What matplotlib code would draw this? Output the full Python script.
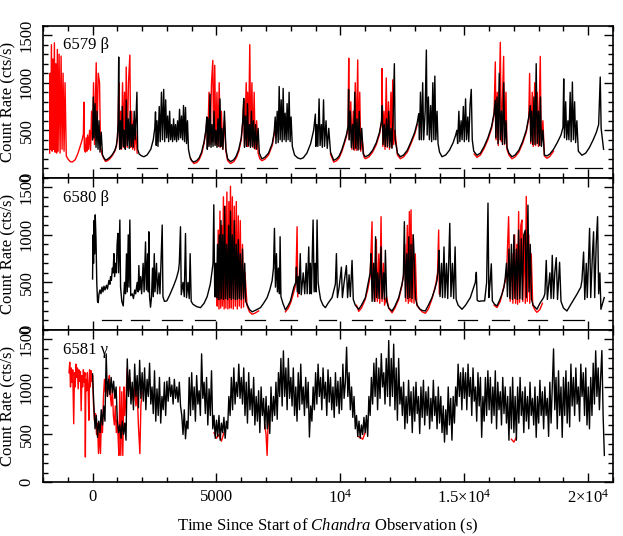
import numpy as np
import matplotlib
matplotlib.use("Agg")
import matplotlib.pyplot as plt
from matplotlib.ticker import MultipleLocator, FixedLocator, FixedFormatter

plt.rcParams['font.family'] = 'Liberation Serif'
plt.rcParams['mathtext.fontset'] = 'custom'
plt.rcParams['mathtext.rm'] = 'Liberation Serif'
plt.rcParams['mathtext.it'] = 'Liberation Serif:italic'

# ---- 6579 beta : black (Chandra) and red (RXTE) light curves, (time s, rate cts/s)
beta79_black = [
    (0, 400), (30, 850), (60, 420), (100, 780), (140, 320), (180, 700), (220, 300), (260, 600), (300, 270),
    (350, 480), (400, 240), (460, 210), (524, 185),
    (600, 195), (700, 215), (800, 245), (900, 290), (960, 340), (1000, 420), (1030, 560), (1055, 1270),
    (1075, 500), (1100, 300),
    (1130, 600), (1160, 310), (1200, 750), (1240, 330), (1280, 500), (1320, 300), (1360, 820), (1400, 340),
    (1440, 620), (1480, 310), (1520, 700), (1560, 330), (1600, 560), (1640, 320), (1680, 700), (1720, 400),
    (1790, 900), (1820, 300), (1880, 250), (1970, 232), (2070, 221),
    (2200, 240), (2350, 300), (2450, 400), (2510, 520), (2540, 693), (2570, 340),
    (2600, 600), (2640, 330), (2690, 750), (2730, 380), (2780, 900), (2820, 400), (2870, 930), (2910, 380),
    (2950, 820), (2990, 420), (3030, 650), (3070, 380), (3110, 700), (3150, 400), (3190, 560), (3230, 380),
    (3270, 620), (3310, 400), (3350, 560), (3390, 380), (3430, 600), (3470, 400), (3510, 720), (3550, 420),
    (3590, 650), (3630, 400), (3670, 760), (3710, 380), (3750, 740), (3790, 360), (3830, 600), (3870, 300),
    (3930, 220), (4000, 180), (4086, 166),
    (4200, 180), (4300, 210), (4400, 270), (4500, 380), (4570, 500), (4610, 640), (4630, 300),
    (4660, 620), (4700, 330), (4740, 880), (4780, 320), (4820, 560), (4860, 330), (4900, 700), (4940, 340),
    (4980, 500), (5020, 320), (5060, 620), (5100, 330), (5140, 830), (5180, 330), (5220, 520), (5260, 300),
    (5320, 700), (5380, 300), (5450, 200), (5565, 170),
    (5700, 190), (5800, 230), (5900, 300), (6000, 420), (6060, 600), (6100, 835), (6130, 320),
    (6170, 650), (6210, 330), (6250, 780), (6290, 340), (6330, 560), (6370, 320), (6410, 700), (6450, 330),
    (6490, 600), (6530, 310), (6580, 560), (6620, 300), (6680, 520), (6730, 260), (6830, 199),
    (6950, 215), (7100, 260), (7250, 360), (7330, 480), (7370, 640), (7400, 360),
    (7450, 700), (7490, 370), (7530, 960), (7570, 400), (7610, 820), (7650, 380), (7690, 940), (7730, 400),
    (7770, 680), (7810, 380), (7850, 780), (7890, 400), (7930, 900), (7970, 380), (8010, 640), (8060, 330),
    (8150, 240), (8270, 210), (8390, 199),
    (8500, 210), (8650, 260), (8800, 360), (8920, 500), (8990, 670), (9010, 330),
    (9050, 560), (9090, 330), (9140, 830), (9180, 340), (9230, 560), (9270, 320), (9320, 820), (9360, 330),
    (9420, 600), (9470, 310), (9530, 520), (9600, 270), (9730, 184),
    (9850, 200), (9950, 230), (10050, 290), (10150, 370), (10250, 460), (10310, 545), (10330, 930), (10350, 400),
    (10400, 700), (10440, 320), (10490, 560), (10530, 300), (10580, 900), (10620, 310), (10670, 620),
    (10710, 290), (10760, 700), (10800, 300), (10860, 520), (10920, 250), (11008, 221),
    (11150, 240), (11300, 290), (11450, 370), (11580, 480), (11660, 600), (11690, 760), (11720, 350),
    (11770, 560), (11810, 330), (11860, 620), (11900, 330), (11950, 700), (11990, 320), (12040, 520),
    (12080, 310), (12130, 680), (12177, 1200), (12210, 400), (12300, 260), (12419, 221),
    (12550, 240), (12700, 290), (12850, 380), (13000, 480), (13100, 580), (13160, 675), (13190, 400),
    (13230, 900), (13270, 400), (13320, 1000), (13360, 400), (13420, 700), (13468, 1344), (13500, 450),
    (13550, 850), (13590, 400), (13640, 760), (13680, 380), (13730, 1000), (13770, 400), (13810, 1070),
    (13850, 400), (13900, 700), (13940, 360), (14000, 270), (14100, 221),
    (14250, 240), (14400, 290), (14550, 370), (14650, 450), (14700, 500), (14730, 360),
    (14780, 700), (14820, 380), (14870, 600), (14910, 400), (14960, 750), (15000, 380), (15050, 830),
    (15090, 400), (15140, 640), (15180, 380), (15230, 760), (15280, 930), (15320, 400), (15380, 280), (15510, 237),
    (15650, 260), (15800, 330), (15950, 420), (16100, 540), (16200, 680), (16250, 816), (16270, 420),
    (16320, 850), (16360, 360), (16410, 1100), (16450, 400), (16500, 700), (16540, 350), (16590, 1000),
    (16630, 360), (16680, 600), (16720, 320), (16800, 260), (16923, 221),
    (17050, 240), (17200, 290), (17350, 380), (17500, 500), (17600, 640), (17660, 760), (17680, 380),
    (17720, 700), (17760, 350), (17810, 850), (17850, 350), (17900, 1200), (17940, 360), (17990, 700),
    (18030, 340), (18070, 850), (18110, 330), (18170, 500), (18230, 240), (18333, 230),
    (18450, 250), (18600, 300), (18750, 370), (18900, 450), (18980, 530), (19010, 1040), (19040, 420),
    (19090, 800), (19130, 400), (19180, 600), (19220, 400), (19270, 900), (19310, 380), (19360, 1007),
    (19400, 400), (19450, 800), (19490, 370), (19540, 600), (19600, 280), (19745, 237),
    (19900, 260), (20050, 320), (20200, 400), (20330, 480), (20420, 560), (20484, 1060), (20520, 520), (20618, 300),
]

beta79_red_a = [
    (-1730, 260), (-1710, 1100), (-1690, 300), (-1660, 1400), (-1630, 280), (-1600, 1250), (-1570, 300),
    (-1540, 1420), (-1510, 270), (-1480, 1200), (-1450, 260), (-1420, 1350), (-1390, 280), (-1350, 1300),
    (-1310, 260), (-1270, 1280), (-1230, 300), (-1190, 1100), (-1150, 280), (-1110, 1000), (-1060, 230),
    (-1000, 200), (-900, 170), (-820, 166), (-700, 190), (-600, 250), (-500, 330), (-420, 400), (-370, 460),
    (-350, 795), (-330, 300), (-290, 270), (-260, 420), (-230, 280), (-200, 450), (-160, 300), (-120, 500),
    (-80, 290), (-40, 700), (0, 400), (40, 1000), (80, 350), (148, 1210), (180, 400), (230, 1100), (282, 1000),
    (320, 320), (380, 250), (440, 210), (524, 172), (600, 180), (700, 200), (800, 235), (900, 280), (960, 330),
    (1000, 410), (1030, 560), (1062, 1000), (1090, 320), (1130, 700), (1170, 300), (1210, 1000), (1250, 320),
    (1290, 900), (1330, 330), (1358, 1166), (1400, 320), (1450, 1000), (1505, 1290), (1540, 320), (1580, 700),
    (1620, 300), (1660, 600), (1700, 290), (1740, 500), (1800, 260),
]
beta79_red_b = [
    (3950, 200), (4086, 150), (4200, 160), (4300, 190), (4400, 250), (4500, 360), (4570, 480), (4610, 600),
    (4640, 320), (4700, 900), (4740, 350), (4800, 1000), (4852, 1235), (4880, 380), (4930, 1183), (4970, 350),
    (5020, 900), (5060, 330), (5110, 1000), (5150, 320), (5200, 700), (5250, 300), (5320, 600), (5380, 280),
    (5450, 180), (5565, 150), (5700, 170), (5800, 210), (5900, 280), (6000, 400), (6060, 580), (6100, 800),
    (6130, 330), (6200, 1000), (6240, 330), (6250, 900), (6290, 330), (6344, 1400), (6380, 340), (6430, 1000),
    (6470, 320), (6520, 900), (6560, 300), (6620, 600), (6680, 260), (6750, 200), (6830, 180), (6950, 195),
    (7100, 240), (7250, 340), (7330, 460), (7380, 600),
]
beta79_red_c = [
    (9600, 250), (9730, 165), (9850, 180), (9950, 210), (10050, 270), (10150, 350), (10250, 440), (10310, 520),
    (10336, 1258), (10360, 400), (10420, 800), (10460, 300), (10520, 700), (10560, 290), (10600, 1000),
    (10640, 290), (10699, 1240), (10730, 300), (10780, 900), (10820, 280), (10880, 400), (10950, 220),
    (11008, 200), (11150, 220), (11300, 270), (11450, 350), (11580, 460), (11660, 580), (11680, 1149),
    (11710, 330), (11760, 700), (11800, 300), (11850, 1050), (11890, 320), (11940, 800), (11980, 300),
    (12040, 900), (12080, 320), (12110, 1030), (12150, 350), (12200, 500), (12300, 240), (12419, 200),
    (12550, 220), (12700, 270), (12850, 360), (13000, 460), (13100, 560),
]
beta79_red_d = [
    (15400, 250), (15510, 215), (15650, 240), (15800, 310), (15950, 400), (16100, 520), (16200, 660),
    (16250, 1219), (16280, 400), (16330, 900), (16370, 340), (16452, 1425), (16490, 380), (16586, 1277),
    (16620, 350), (16680, 900), (16720, 300), (16800, 240), (16923, 200), (17050, 220), (17200, 270),
    (17350, 360), (17500, 480), (17600, 620), (17634, 1097), (17680, 360), (17740, 900), (17780, 330),
    (17840, 1000), (17880, 340), (17940, 900), (17990, 330), (18065, 1277), (18100, 340), (18170, 600),
    (18230, 230), (18333, 205), (18450, 225), (18600, 280),
]

# ---- 6580 beta
beta80_black = [
    (0, 536), (20, 1000), (40, 700), (60, 1150), (80, 800), (108, 1210), (140, 950), (170, 500), (200, 300),
    (228, 287), (260, 380), (300, 420), (340, 380), (380, 450), (420, 400), (460, 460), (500, 420), (560, 470),
    (600, 430), (660, 520), (700, 480), (726, 560), (760, 520), (800, 650), (830, 600), (860, 802), (890, 560),
    (930, 700), (960, 600), (990, 900), (1022, 1015), (1050, 600), (1080, 900), (1102, 1156), (1130, 450),
    (1180, 300), (1237, 252), (1290, 500), (1330, 380), (1370, 800), (1400, 400), (1440, 1000), (1470, 450),
    (1505, 1156), (1540, 360), (1600, 380), (1650, 330), (1700, 420), (1740, 380), (1800, 500), (1840, 400),
    (1868, 677), (1900, 420), (1940, 560), (1980, 380), (2040, 700), (2080, 400), (2137, 925), (2170, 420),
    (2220, 800), (2250, 400), (2271, 1032), (2300, 350), (2339, 239), (2380, 350), (2420, 650), (2450, 350),
    (2490, 802), (2520, 400), (2580, 700), (2620, 380), (2680, 600), (2720, 380), (2760, 700), (2810, 1103),
    (2840, 350), (2900, 300), (2995, 305), (3100, 360), (3200, 420), (3265, 460), (3380, 540), (3468, 624),
    (3500, 700), (3548, 1085), (3580, 370), (3650, 500), (3700, 350), (3750, 1014), (3790, 340), (3850, 500),
    (3900, 330), (3937, 802), (3980, 300), (4050, 270), (4200, 245), (4355, 234), (4500, 280), (4624, 350),
    (4750, 480), (4825, 624), (4860, 700), (4892, 1316), (4930, 350),
    (4970, 700), (5000, 340), (5040, 900), (5070, 320), (5110, 1000), (5140, 320), (5180, 1150), (5210, 330),
    (5250, 1000), (5290, 320), (5330, 1300), (5370, 330), (5410, 900), (5450, 320), (5490, 1100), (5530, 340),
    (5565, 1250), (5600, 320), (5640, 1000), (5680, 330), (5720, 1150), (5760, 320), (5800, 900), (5840, 320),
    (5880, 950), (5920, 330), (5960, 800), (6000, 320), (6050, 850), (6090, 330), (6140, 700), (6180, 300),
    (6230, 270), (6330, 215), (6438, 190), (6600, 210), (6774, 234), (6900, 280), (7043, 340), (7150, 420),
    (7245, 518), (7300, 650), (7339, 1068), (7380, 450), (7420, 802), (7460, 400), (7500, 650), (7540, 380),
    (7567, 980), (7600, 350), (7680, 280), (7782, 210), (7900, 260), (7984, 305), (8118, 446), (8200, 500),
    (8226, 660), (8260, 400), (8300, 560), (8330, 380), (8380, 802), (8420, 370), (8500, 600), (8560, 380),
    (8620, 700), (8660, 380), (8723, 873), (8760, 380), (8790, 700), (8830, 380), (8898, 1156), (8940, 400),
    (8980, 700), (9020, 400), (9059, 1156), (9100, 500), (9140, 420), (9200, 320), (9300, 260), (9395, 234),
    (9500, 280), (9664, 340), (9798, 482), (9839, 802), (9880, 340), (9950, 450), (10040, 660), (10080, 340),
    (10150, 500), (10242, 677), (10290, 340), (10350, 580), (10400, 350), (10470, 731), (10520, 320),
    (10600, 260), (10739, 217), (10850, 260), (11008, 340), (11142, 518), (11200, 600), (11237, 802),
    (11280, 300), (11330, 700), (11370, 300), (11420, 980), (11460, 340), (11510, 600), (11560, 330),
    (11640, 873), (11680, 330), (11740, 600), (11780, 320), (11815, 837), (11870, 300), (11950, 230),
    (12083, 199), (12200, 250), (12352, 340), (12486, 482), (12540, 560), (12581, 1138), (12620, 340),
    (12680, 802), (12720, 330), (12760, 980), (12800, 340), (12850, 900), (12890, 330), (12940, 1000),
    (12985, 700), (13030, 330), (13100, 260), (13200, 220), (13300, 205), (13427, 199), (13550, 260),
    (13696, 340), (13800, 420), (13898, 518), (13950, 650), (13980, 837), (14020, 350), (14080, 700),
    (14120, 340), (14180, 873), (14220, 340), (14280, 700), (14330, 330), (14413, 1121), (14460, 350),
    (14520, 700), (14570, 330), (14628, 873), (14670, 320), (14750, 260), (14906, 217), (15050, 260),
    (15242, 340), (15444, 500), (15484, 606), (15520, 310), (15600, 300), (15700, 305), (15820, 305),
    (15900, 500), (15955, 1334), (15990, 340), (16040, 500), (16089, 695), (16130, 305), (16220, 270),
    (16317, 252), (16420, 310), (16518, 375), (16600, 450), (16652, 553), (16700, 700), (16740, 350),
    (16800, 850), (16840, 330), (16900, 900), (16940, 320), (17000, 1000), (17040, 330), (17100, 850),
    (17140, 320), (17191, 1050), (17240, 330), (17300, 960), (17340, 320), (17400, 1000), (17460, 1050),
    (17500, 340), (17567, 1312), (17610, 400), (17660, 900), (17710, 320), (17780, 260), (17930, 217),
    (18050, 280), (18199, 340), (18250, 380), (18306, 731), (18350, 320), (18450, 600), (18500, 330),
    (18548, 784), (18600, 330), (18650, 600), (18710, 760), (18760, 320), (18844, 711), (18900, 300),
    (19000, 230), (19140, 199), (19300, 270), (19543, 375), (19700, 450), (19745, 518), (19812, 819),
    (19860, 320), (19920, 700), (19960, 340), (20054, 1068), (20100, 340), (20170, 800), (20215, 1032),
    (20260, 340), (20320, 900), (20376, 1191), (20420, 380), (20470, 600), (20511, 217), (20645, 340),
]
beta80_red_a = [
    (4960, 350), (5000, 700), (5030, 250), (5070, 1050), (5100, 220), (5140, 1250), (5170, 230), (5210, 1100),
    (5240, 250), (5280, 1400), (5310, 220), (5350, 1300), (5380, 230), (5420, 1450), (5460, 220), (5500, 1350),
    (5530, 230), (5565, 1511), (5600, 230), (5640, 1400), (5680, 220), (5720, 1300), (5760, 250), (5800, 1350),
    (5840, 220), (5880, 1200), (5920, 250), (5960, 1150), (6000, 230), (6050, 900), (6090, 240), (6150, 600),
    (6230, 260), (6330, 190), (6438, 165), (6550, 175), (6700, 200),
]
beta80_red_b = [(7782, 190), (7900, 230), (8000, 290), (8100, 380), (8200, 480), (8253, 1085), (8280, 350)]
beta80_red_c = [
    (10650, 260), (10739, 195), (10850, 230), (11000, 320), (11100, 420), (11200, 560), (11277, 1138),
    (11300, 330), (11350, 700), (11400, 300), (11450, 950), (11490, 300), (11550, 800), (11590, 280),
    (11640, 1191), (11680, 300), (11740, 700), (11780, 260), (11860, 350), (11950, 230), (12083, 180),
    (12200, 230), (12350, 320), (12480, 460), (12560, 600), (12600, 900), (12640, 300), (12700, 1100),
    (12740, 280), (12783, 1245), (12810, 300), (12850, 1262), (12880, 290), (12930, 1000), (12970, 280),
    (13020, 800), (13080, 260), (13200, 220), (13300, 190), (13427, 175), (13550, 220), (13700, 330),
    (13850, 480), (13920, 600), (13965, 1050), (13990, 380),
]
beta80_red_d = [
    (16200, 260), (16317, 235), (16450, 300), (16600, 460), (16700, 560), (16787, 1191), (16850, 300),
    (16920, 800), (16960, 280), (17030, 1000), (17070, 280), (17120, 900), (17150, 270), (17191, 1245),
    (17230, 290), (17280, 1100), (17325, 1156), (17360, 300), (17420, 1000), (17460, 280), (17500, 1404),
    (17540, 300), (17600, 1000), (17640, 280), (17700, 800), (17760, 260), (17850, 210), (17930, 185),
    (18050, 215), (18150, 280),
]

# ---- 6581 gamma : black binned every 50 s from t = 0 (one row per 1000 s)
gamma_bin = 50
gamma_black = [
    1138, 820, 560, 700, 470, 640, 520, 760, 600, 800, 640, 1348, 900, 1080, 920, 1100, 940, 1060, 880, 1000,
    640, 520, 600, 460, 640, 500, 620, 440, 1295, 900, 1180, 820, 1050, 760, 1240, 900, 1120, 780, 1280, 880,
    1150, 850, 1200, 760, 1080, 900, 1250, 820, 1000, 720, 1170, 640, 980, 700, 1100, 620, 900, 760, 1050, 700,
    1060, 850, 1100, 900, 1020, 820, 1080, 880, 1000, 840, 1050, 800, 700, 500, 760, 455, 640, 560, 1100, 700,
    1150, 760, 1000, 640, 1120, 820, 960, 700, 1348, 880, 1050, 720, 1100, 600, 980, 700, 1170, 560, 700, 460,
    650, 480, 700, 440, 620, 520, 680, 460, 640, 560, 900, 700, 1100, 760, 1200, 820, 1050, 900, 1240, 880,
    1100, 820, 1200, 700, 1050, 620, 1150, 760, 980, 700, 1100, 600, 900, 640, 960, 520, 1000, 700, 880, 560,
    900, 560, 800, 510, 1000, 640, 900, 700, 1050, 660, 1150, 900, 1300, 800, 1380, 900, 1200, 760, 1300, 880,
    1100, 800, 1200, 700, 1000, 640, 1150, 760, 1240, 820, 1000, 700, 1100, 780, 1050, 473, 800, 640, 1000, 760,
    1150, 820, 1240, 900, 1100, 760, 1200, 880, 1050, 700, 1180, 840, 1100, 760, 1000, 680, 1150, 800, 1060, 720,
    1100, 760, 1240, 880, 1050, 1418, 900, 1150, 760, 1000, 680, 900, 560, 700, 480, 640, 460, 600, 500, 680,
    520, 700, 480, 900, 700, 1100, 820, 1250, 900, 1300, 760, 1200, 880, 1350, 1000, 1150, 820, 1300, 900, 1488,
    800, 1300, 900, 1450, 760, 1200, 650, 1300, 820, 1000, 700, 1050, 560, 900, 620, 1070, 700, 950, 520, 1000,
    640, 1050, 720, 900, 510, 1000, 680, 1070, 600, 950, 700, 1000, 560, 880, 640, 1070, 700, 900, 560, 1000,
    620, 900, 520, 800, 420, 760, 500, 1000, 600, 880, 440, 900, 620, 1000, 800, 1240, 900, 1150, 760, 1200,
    880, 1150, 760, 1240, 900, 1100, 700, 1200, 850, 1000, 640, 1150, 800, 1100, 470, 900, 640, 1100, 700, 1170,
    760, 1100, 620, 1000, 700, 1170, 560, 1050, 760, 950, 600, 1100, 720, 1000, 620, 900, 440, 1000, 560, 1100,
    520, 900, 440, 1000, 620, 1100, 700, 950, 520, 1000, 640, 900, 560, 1050, 700, 880, 600, 1000, 470, 900,
    620, 1070, 700, 950, 560, 1000, 700, 880, 480, 1050, 620, 1000, 1400, 760, 1100, 560, 1170, 700, 1000, 470,
    1100, 700, 1170, 620, 1050, 580, 1240, 800, 1100, 700, 1200, 820, 1000, 640, 1240, 900, 1150, 700, 1200, 600,
    1000, 560, 1100, 700, 1250, 820, 1380, 900, 1200, 760, 1100, 1383, 700, 280,
]
gamma_red_a = [
    (-950, 1150), (-920, 1260), (-890, 1000), (-860, 1200), (-830, 1050), (-800, 1180), (-760, 613),
    (-730, 1150), (-700, 1000), (-670, 1240), (-640, 1100), (-610, 1200), (-580, 980), (-550, 1180),
    (-520, 1060), (-490, 1160), (-460, 750), (-430, 1120), (-400, 1000), (-370, 1180), (-340, 1050),
    (-310, 1150), (-290, 263), (-270, 1080), (-240, 960), (-210, 1150), (-180, 1000), (-150, 650),
    (-120, 1180), (-90, 1000), (-60, 1170), (-30, 1060), (0, 1120), (40, 800), (80, 640), (120, 720),
    (160, 500), (200, 620), (240, 300), (280, 560), (320, 300), (360, 700), (400, 520), (440, 900),
    (480, 1080), (520, 950), (560, 1000), (600, 900), (640, 1050), (680, 1120), (720, 900), (760, 800),
    (800, 980), (840, 700), (880, 600), (920, 800), (960, 520), (1000, 650), (1040, 420), (1062, 280),
    (1100, 1000), (1140, 280), (1180, 950), (1220, 280), (1263, 1000), (1300, 700), (1350, 900),
    (1400, 1200), (1450, 950), (1500, 1100), (1550, 900), (1600, 1000), (1650, 850), (1700, 1000),
    (1750, 800), (1800, 950), (1850, 600), (1909, 298), (1950, 800), (2000, 950),
]
gamma_red_b = [(4900, 520), (5000, 460), (5100, 500), (5200, 430), (5300, 520)]
gamma_red_c = [(6950, 600), (7000, 500), (7043, 280), (7080, 600), (7120, 750)]
gamma_red_d = [(10700, 480), (10800, 470), (10900, 450), (11000, 520)]
gamma_red_e = [(16900, 450), (17000, 420), (17100, 470)]

# horizontal bars (start, end) in s, drawn at 100 cts/s
bars_6579 = [(295, 1102), (1801, 2581), (3858, 4650), (5323, 6129), (6640, 7446), (8172, 8992),
             (9530, 10336), (10806, 11681), (12218, 13226), (13964, 14839), (15310, 16452),
             (16720, 17661), (18065, 19141), (19476, 20552)]
bars_6580 = [(391, 1129), (1532, 2271), (2810, 3616), (4153, 4960), (6169, 6976), (7553, 8253),
             (9126, 9839), (10470, 11277), (11815, 12621), (13159, 14005), (14745, 15511),
             (16116, 16787), (17552, 18333), (18965, 19812)]
bar_level = 100

panel_labels = ['6579 β', '6580 β', '6581 γ']
xtick_vals = [0, 5000, 10000, 15000, 20000]
xtick_text = ['0', '5000', r'$10^4$', r'$1.5{\times}10^4$', r'$2{\times}10^4$']
ytick_vals = [0, 500, 1000, 1500]

fig = plt.figure(figsize=(6.23, 5.36), dpi=100)
left, width, h = 0.069, 0.915, 0.2838
bottoms = [0.6683, 0.3845, 0.1007]
axes = [fig.add_axes([left, b, width, h]) for b in bottoms]


def line(ax, pts, color):
    a = np.array(pts, dtype=float)
    ax.plot(a[:, 0], a[:, 1], color=color, lw=1.0)


# panel 1
ax = axes[0]
for seg in [beta79_red_a, beta79_red_b, beta79_red_c, beta79_red_d]:
    line(ax, seg, 'red')
line(ax, beta79_black, 'black')
for s, e in bars_6579:
    ax.plot([s, e], [bar_level, bar_level], color='black', lw=0.9)

# panel 2
ax = axes[1]
for seg in [beta80_red_a, beta80_red_b, beta80_red_c, beta80_red_d]:
    line(ax, seg, 'red')
line(ax, beta80_black, 'black')
for s, e in bars_6580:
    ax.plot([s, e], [bar_level, bar_level], color='black', lw=0.9)

# panel 3
ax = axes[2]
for seg in [gamma_red_a, gamma_red_b, gamma_red_c, gamma_red_d, gamma_red_e]:
    line(ax, seg, 'red')
gt = np.arange(len(gamma_black)) * gamma_bin
ax.plot(gt, gamma_black, color='black', lw=1.0)

for i, ax in enumerate(axes):
    ax.set_xlim(-2000, 21000)
    ax.set_ylim(0, 1600)
    ax.xaxis.set_major_locator(FixedLocator(xtick_vals))
    ax.xaxis.set_minor_locator(MultipleLocator(1000))
    ax.yaxis.set_major_locator(FixedLocator(ytick_vals))
    ax.yaxis.set_minor_locator(MultipleLocator(100))
    ax.tick_params(which='both', direction='in', top=True, right=True, width=1.0)
    ax.tick_params(which='major', length=6.5)
    ax.tick_params(which='minor', length=3.5)
    ax.tick_params(axis='y', labelsize=12, pad=6, labelrotation=90)
    ax.tick_params(axis='x', labelsize=12, pad=5)
    for lab in ax.get_yticklabels():
        lab.set_va('center')
    for sp in ax.spines.values():
        sp.set_linewidth(1.2)
    ax.set_ylabel('Count Rate (cts/s)', fontsize=12)
    ax.yaxis.set_label_coords(-0.046, 0.5)
    ax.text(0.035, 0.87, panel_labels[i], transform=ax.transAxes, fontsize=12, va='center')
    if i < 2:
        ax.set_xticklabels([])
    else:
        ax.xaxis.set_major_formatter(FixedFormatter(xtick_text))

axes[2].set_xlabel(r'Time Since Start of $\mathit{Chandra}$ Observation (s)', fontsize=12, labelpad=7)

fig.savefig('out.png', dpi=100)
